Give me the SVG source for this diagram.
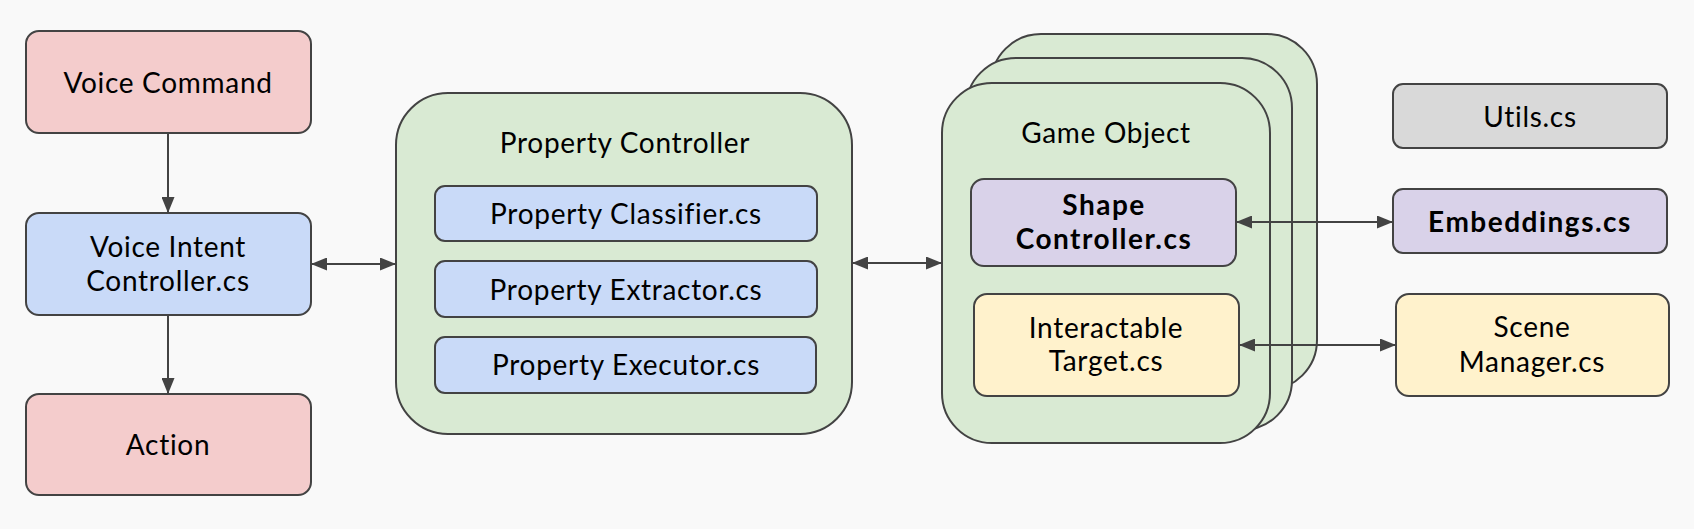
<svg xmlns="http://www.w3.org/2000/svg" width="1694" height="529" viewBox="0 0 1694 529">
<defs>
<style>
.box{stroke:#434343;stroke-width:2}
.red{fill:#f4cccc}.blue{fill:#c9daf8}.green{fill:#d9ead3}.purple{fill:#d9d2e9}.yellow{fill:#fff2cc}.gray{fill:#d9d9d9}
text{font-family:Lato,"Open Sans","Liberation Sans",sans-serif;font-size:28px;fill:#000;text-anchor:middle;letter-spacing:0.7px}
.b{font-weight:bold;letter-spacing:1.5px}
.conn{stroke:#434343;stroke-width:2;fill:none}
</style>
<marker id="ah" markerUnits="userSpaceOnUse" markerWidth="16" markerHeight="13" refX="16" refY="6.5" orient="auto-start-reverse">
<path d="M0,0 L16,6.5 L0,13 z" fill="#434343"/>
</marker>
</defs>
<rect width="1694" height="529" fill="#f9f9f9"/>

<g id="voice-command"><rect class="box red" x="26" y="31" width="285" height="102" rx="13"/><text x="168" y="93">Voice Command</text></g>
<g id="voice-intent"><rect class="box blue" x="26" y="213" width="285" height="102" rx="13"/><text x="168" y="257">Voice Intent</text><text x="168" y="291">Controller.cs</text></g>
<g id="action"><rect class="box red" x="26" y="394" width="285" height="101" rx="13"/><text x="168" y="455">Action</text></g>

<g id="property-controller"><rect class="box green" x="396" y="93" width="456" height="341" rx="52"/><text x="625" y="153">Property Controller</text></g>
<g id="property-classifier"><rect class="box blue" x="435" y="186" width="382" height="55" rx="10"/><text x="626" y="224">Property Classifier.cs</text></g>
<g id="property-extractor"><rect class="box blue" x="435" y="261" width="382" height="56" rx="10"/><text x="626" y="300">Property Extractor.cs</text></g>
<g id="property-executor"><rect class="box blue" x="435" y="337" width="381" height="56" rx="10"/><text x="626" y="375">Property Executor.cs</text></g>

<g id="game-object">
<rect class="box green" x="991" y="34" width="326" height="356" rx="50"/>
<rect class="box green" x="966" y="58" width="326" height="372" rx="50"/>
<rect class="box green" x="942" y="83" width="328" height="360" rx="50"/>
<text x="1106" y="143">Game Object</text>
</g>
<g id="shape-controller"><rect class="box purple" x="971" y="179" width="265" height="87" rx="13"/><text class="b" x="1104" y="215">Shape</text><text class="b" x="1104" y="249">Controller.cs</text></g>
<g id="interactable-target"><rect class="box yellow" x="974" y="294" width="265" height="102" rx="13"/><text x="1106" y="338">Interactable</text><text x="1106" y="371">Target.cs</text></g>

<g id="utils"><rect class="box gray" x="1393" y="84" width="274" height="64" rx="10"/><text x="1530" y="127">Utils.cs</text></g>
<g id="embeddings"><rect class="box purple" x="1393" y="189" width="274" height="64" rx="10"/><text class="b" x="1530" y="232">Embeddings.cs</text></g>
<g id="scene-manager"><rect class="box yellow" x="1396" y="294" width="273" height="102" rx="13"/><text x="1532" y="337">Scene</text><text x="1532" y="372">Manager.cs</text></g>

<g id="connectors">
<line class="conn" x1="168" y1="133" x2="168" y2="213" marker-end="url(#ah)"/>
<line class="conn" x1="168" y1="315" x2="168" y2="394" marker-end="url(#ah)"/>
<line class="conn" x1="311" y1="264" x2="396" y2="264" marker-start="url(#ah)" marker-end="url(#ah)"/>
<line class="conn" x1="852" y1="263" x2="942" y2="263" marker-start="url(#ah)" marker-end="url(#ah)"/>
<line class="conn" x1="1236" y1="222" x2="1393" y2="222" marker-start="url(#ah)" marker-end="url(#ah)"/>
<line class="conn" x1="1239" y1="345" x2="1396" y2="345" marker-start="url(#ah)" marker-end="url(#ah)"/>
</g>
</svg>
